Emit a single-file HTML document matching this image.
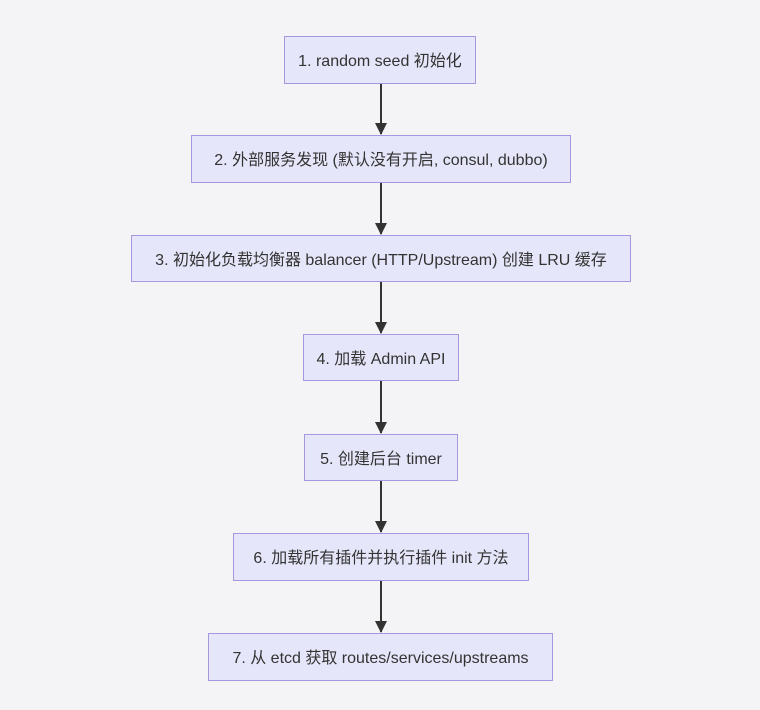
<!DOCTYPE html>
<html><head><meta charset="utf-8"><style>
body{margin:0;width:760px;height:710px;background:#f4f4f6;position:relative;overflow:hidden;font-family:"Liberation Sans","Noto Sans CJK SC",sans-serif;}
.b{position:absolute;box-sizing:border-box;background:#e6e6fa;border:1.5px solid #a796e0;color:#333;font-size:16px;display:flex;align-items:center;justify-content:center;white-space:nowrap;padding-bottom:2px;}
svg{position:absolute;left:0;top:0}
</style></head><body>
<svg width="760" height="710">
<defs><marker id="a" markerWidth="12" markerHeight="12" refX="11" refY="6" orient="auto" markerUnits="userSpaceOnUse"><path d="M0,0L12,6L0,12z" fill="#333"/></marker></defs>
<g stroke="#333" stroke-width="2" marker-end="url(#a)">
<line x1="381" y1="84" x2="381" y2="134"/>
<line x1="381" y1="183" x2="381" y2="234"/>
<line x1="381" y1="282" x2="381" y2="333"/>
<line x1="381" y1="381" x2="381" y2="433"/>
<line x1="381" y1="481" x2="381" y2="532"/>
<line x1="381" y1="581" x2="381" y2="632"/>
</g></svg>
<div class="b" style="left:284px;top:36px;width:192px;height:48px">1. random seed 初始化</div>
<div class="b" style="left:191px;top:135px;width:380px;height:48px">2. 外部服务发现 (默认没有开启, consul, dubbo)</div>
<div class="b" style="left:131px;top:235px;width:500px;height:47px">3. 初始化负载均衡器 balancer (HTTP/Upstream) 创建 LRU 缓存</div>
<div class="b" style="left:303px;top:334px;width:156px;height:47px">4. 加载 Admin API</div>
<div class="b" style="left:304px;top:434px;width:154px;height:47px">5. 创建后台 timer</div>
<div class="b" style="left:233px;top:533px;width:296px;height:48px">6. 加载所有插件并执行插件 init 方法</div>
<div class="b" style="left:208px;top:633px;width:345px;height:48px">7. 从 etcd 获取 routes/services/upstreams</div>
</body></html>
